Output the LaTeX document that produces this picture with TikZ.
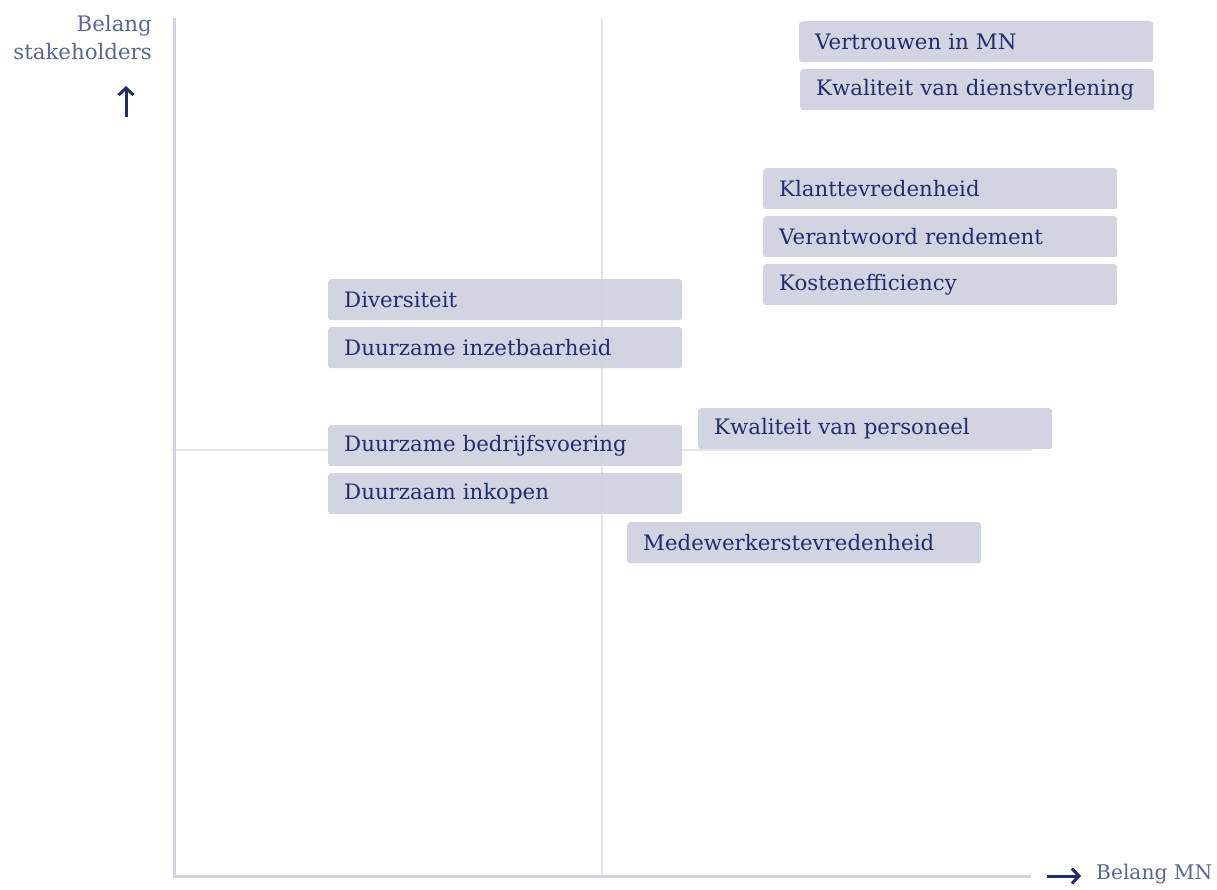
\documentclass[tikz,border=0pt]{standalone}
\usepackage{fontspec}
\setmainfont{DejaVu Serif}
\usetikzlibrary{arrows.meta}
\definecolor{boxfill}{HTML}{CFD1DF}
\definecolor{navy}{HTML}{222D6E}
\definecolor{axislab}{HTML}{5C6595}
\definecolor{axisline}{HTML}{D0D2E0}
\definecolor{gridline}{HTML}{E2E4EC}
\tikzset{
  item/.style={anchor=north west, fill=boxfill, fill opacity=0.93, text opacity=1,
    rounded corners=3pt, minimum width=354pt, minimum height=41pt,
    text width=322pt, inner xsep=16pt, inner ysep=0pt, align=left,
    text=navy, font=\fontsize{21.3}{24}\selectfont},
  axlabel/.style={text=axislab, inner sep=0pt},
  axis/.style={draw=axisline, line width=3pt},
  grid/.style={draw=gridline, line width=1.2pt},
  arr/.style={draw=navy, line width=3pt, -{Straight Barb[length=7pt,width=15pt]}}
}
\begin{document}
\begin{tikzpicture}[x=1pt,y=-1pt]
\useasboundingbox (0,0) rectangle (1217,889);
% grid
\coordinate (gv1) at (602,18);
\coordinate (gv2) at (602,876);
\coordinate (gh1) at (172,450);
\coordinate (gh2) at (1032,450);
\draw[grid] (gv1) -- (gv2);
\draw[grid] (gh1) -- (gh2);
% axes
\coordinate (o) at (174,876);
\coordinate (ytop) at (174,18);
\coordinate (xend) at (1031,876);
\draw[axis] (ytop) -- (o) -- (xend);
% items
\node[item] (n1) at (799,21) {Vertrouwen in MN};
\node[item] (n2) at (800,69) {Kwaliteit van dienstverlening};
\node[item] (n3) at (763,168) {Klanttevredenheid};
\node[item] (n4) at (763,216) {Verantwoord rendement};
\node[item] (n5) at (763,264) {Kostenefficiency};
\node[item] (n6) at (328,279) {Diversiteit};
\node[item] (n7) at (328,327) {Duurzame inzetbaarheid};
\node[item] (n8) at (698,408) {Kwaliteit van personeel};
\node[item] (n9) at (328,425) {Duurzame bedrijfsvoering};
\node[item] (n10) at (328,473) {Duurzaam inkopen};
\node[item] (n11) at (627,522) {Medewerkerstevredenheid};
% axis labels
\node[axlabel, anchor=north east, align=right, font=\fontsize{21.3}{28}\selectfont] (ylab) at (152,15) {Belang\\stakeholders};
\coordinate (ua1) at (126,117);
\coordinate (ua2) at (126,86);
\draw[arr] (ua1) -- (ua2);
\coordinate (ra1) at (1047,876);
\coordinate (ra2) at (1081,876);
\draw[arr] (ra1) -- (ra2);
\node[axlabel, anchor=west, font=\fontsize{20.2}{24}\selectfont] (xlab) at (1096,874) {Belang MN};
\end{tikzpicture}
\end{document}
